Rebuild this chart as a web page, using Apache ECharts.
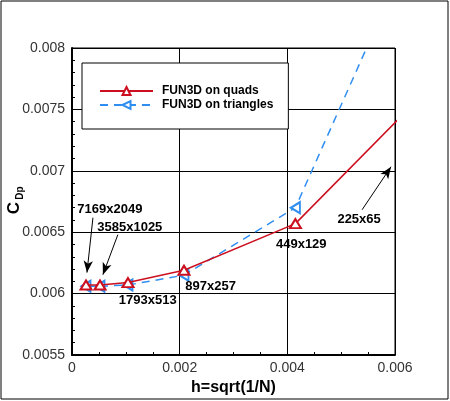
<!DOCTYPE html>
<html>
<head>
<meta charset="utf-8">
<script src="https://cdn.jsdelivr.net/npm/echarts@6/dist/echarts.min.js"></script>
<style>
  html, body { margin: 0; padding: 0; background: #fff; }
  #chart { width: 450px; height: 401px; }
</style>
</head>
<body>
<div id="chart"></div>
<script>
// grid spacing h = sqrt(1/N) and pressure drag for each mesh
var meshNames = ['7169x2049', '3585x1025', '1793x513', '897x257', '449x129', '225x65'];
var hValues = [0.00026, 0.00052, 0.00104, 0.00208, 0.00415, 0.00827];
var cdpQuads = [0.00607, 0.00607, 0.00609, 0.00619, 0.00657, 0.00840];
var cdpTriangles = [0.00606, 0.00606, 0.00607, 0.00615, 0.00670, 0.01075];
var xTickLabels = ['0', '0.002', '0.004', '0.006'];
var yTickLabels = ['0.0055', '0.006', '0.0065', '0.007', '0.0075', '0.008'];

// mesh label placement, in data coordinates
var labelAt = [
    [0.000704, 0.006683],
    [0.001074, 0.006537],
    [0.001407, 0.005943],
    [0.002574, 0.006057],
    [0.004259, 0.006398],
    [0.005333, 0.006602]
];
// arrows: [from, to] in data coordinates
var arrows = [
    [[0.000389, 0.006618], [0.000278, 0.006171]],
    [[0.000852, 0.006480], [0.000574, 0.006154]],
    [[0.005389, 0.006683], [0.005926, 0.007033]]
];

var RED = '#cc1020';
var BLUE = '#2f8ef0';
var FONT = 'Liberation Sans';

function pairs(xs, ys) {
    var out = [];
    for (var i = 0; i < xs.length; i++) out.push([xs[i], ys[i]]);
    return out;
}

var chart = echarts.init(document.getElementById('chart'));

var option = {
    animation: false,
    backgroundColor: '#fff',
    grid: {
        left: 72, top: 48, right: 55, bottom: 46,
        show: true, borderColor: '#000', borderWidth: 1
    },
    legend: {
        orient: 'vertical',
        left: 82, top: 63,
        itemWidth: 53, itemHeight: 10, itemGap: 2,
        padding: [22, 15, 18, 17],
        borderColor: '#000', borderWidth: 1,
        backgroundColor: '#fff',
        textStyle: { fontFamily: FONT, fontWeight: 'bold', fontSize: 12, color: '#000', padding: [0, 0, 0, 4] },
        data: ['FUN3D on quads', 'FUN3D on triangles']
    },
    xAxis: {
        type: 'value',
        min: 0, max: 0.006, interval: 0.002,
        name: 'h=sqrt(1/N)',
        nameLocation: 'middle',
        nameGap: 21,
        nameTextStyle: { fontFamily: FONT, fontWeight: 'bold', fontSize: 16, color: '#000', verticalAlign: 'top' },
        axisLine: { lineStyle: { color: '#000', width: 2 } },
        axisTick: { inside: true, length: 6, lineStyle: { color: '#000' } },
        minorTick: { show: true, splitNumber: 4, length: 3, lineStyle: { color: '#000' } },
        splitLine: { show: true, lineStyle: { color: '#000', width: 1 } },
        axisLabel: {
            fontFamily: FONT, fontSize: 14, color: '#333', margin: 6,
            formatter: function (v, i) { return xTickLabels[i]; }
        }
    },
    yAxis: {
        type: 'value',
        min: 0.0055, max: 0.008, interval: 0.0005,
        axisLine: { show: true, lineStyle: { color: '#000', width: 2 } },
        axisTick: { inside: true, length: 6, lineStyle: { color: '#000' } },
        minorTick: { show: true, splitNumber: 5, length: 3, lineStyle: { color: '#000' } },
        splitLine: { show: true, lineStyle: { color: '#000', width: 1 } },
        axisLabel: {
            fontFamily: FONT, fontSize: 14, color: '#333', margin: 7,
            formatter: function (v, i) { return yTickLabels[i]; }
        }
    },
    series: [
        {
            name: 'FUN3D on quads',
            type: 'line',
            data: pairs(hValues, cdpQuads),
            clip: true,
            symbol: 'emptyTriangle',
            symbolSize: [11, 9],
            itemStyle: { color: RED, borderWidth: 1.5 },
            lineStyle: { color: RED, width: 1.5 },
            z: 3,
            markLine: {
                silent: true,
                symbol: ['none', 'arrow'],
                symbolSize: [7, 12],
                label: { show: false },
                lineStyle: { color: '#000', width: 1, type: 'solid' },
                data: arrows.map(function (a) {
                    return [{ coord: a[0] }, { coord: a[1] }];
                })
            }
        },
        {
            name: 'FUN3D on triangles',
            type: 'line',
            data: pairs(hValues, cdpTriangles),
            clip: true,
            symbol: 'emptyTriangle',
            symbolRotate: 90,
            symbolSize: [11, 9],
            itemStyle: { color: BLUE, borderWidth: 1.5 },
            lineStyle: { color: BLUE, width: 1.5, type: [8, 6] },
            z: 2
        }
    ]
};
chart.setOption(option);

// mesh size labels and outer frame, y axis title
var g = [];
meshNames.forEach(function (name, i) {
    var p = chart.convertToPixel({ gridIndex: 0 }, labelAt[i]);
    g.push({
        type: 'text', x: p[0], y: p[1], z: 10,
        style: { text: name, font: 'bold 13px "Liberation Sans"', fill: '#000', align: 'center', verticalAlign: 'middle' }
    });
});
g.push({
    type: 'text', x: 14, y: 208, rotation: Math.PI / 2,
    style: { text: 'C', font: 'bold 17px "Liberation Sans"', fill: '#000', align: 'center', verticalAlign: 'middle' }
});
g.push({
    type: 'text', x: 20, y: 193, rotation: Math.PI / 2,
    style: { text: 'Dp', font: 'bold 10px "Liberation Sans"', fill: '#000', align: 'center', verticalAlign: 'middle' }
});
g.push({
    type: 'rect', shape: { x: 1, y: 1, width: 447, height: 398 },
    style: { fill: 'none', stroke: '#000', lineWidth: 1 }
});
chart.setOption({ graphic: g });
</script>
</body>
</html>
